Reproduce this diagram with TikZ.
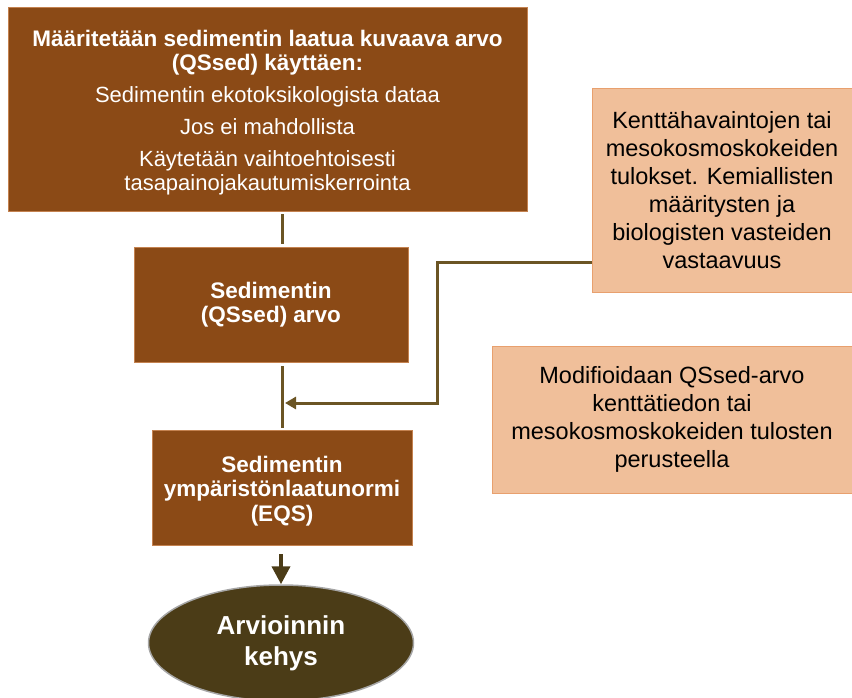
\documentclass[tikz,border=0pt]{standalone}
\usepackage{fontspec}
\setmainfont{Liberation Sans}
\usetikzlibrary{shapes.geometric,arrows.meta}
\definecolor{brownbox}{RGB}{139,74,22}
\definecolor{brownedge}{RGB}{196,130,80}
\definecolor{peach}{RGB}{240,191,154}
\definecolor{peachedge}{RGB}{232,160,110}
\definecolor{darkolive}{RGB}{75,60,23}
\definecolor{linkcol}{RGB}{107,85,36}
\tikzset{
  stagebox/.style={draw=brownedge, line width=0.8pt, fill=brownbox, text=white,
    align=center, inner sep=0pt, font=\fontsize{22.5}{24.5}\selectfont\bfseries},
  notebox/.style={draw=peachedge, line width=0.8pt, fill=peach, text=black,
    align=center, inner sep=0pt},
  link/.style={draw=linkcol, line width=3pt},
  linkarrow/.style={link, -{Triangle[length=11pt,width=12pt]}},
  endarrow/.style={draw=darkolive, line width=4pt, -{Triangle[length=18pt,width=18pt]}},
}
\begin{document}
\begin{tikzpicture}[x=1pt,y=-1pt]
\useasboundingbox (0,0) rectangle (852,698);
% main column
\node[stagebox, minimum width=519pt, minimum height=204pt] (define) at (267.5,109) {};
\node[text=white, align=center, font=\fontsize{22}{24}\selectfont] at (267.5,113)
  {\bfseries\fontsize{22.5}{24}\selectfont Määritetään sedimentin laatua kuvaava arvo\\
   \bfseries\fontsize{22.5}{24}\selectfont (QSsed) käyttäen:\\[8pt]
   Sedimentin ekotoksikologista dataa\\[8pt]
   Jos ei mahdollista\\[8pt]
   Käytetään vaihtoehtoisesti\\
   tasapainojakautumiskerrointa};
\node[stagebox, minimum width=274pt, minimum height=115pt] (qssed) at (271,304.5)
  {Sedimentin\\(QSsed) arvo};
\node[stagebox, minimum width=260pt, minimum height=115pt, text depth=0pt] (eqs) at (282,487.5)
  {};
\node[text=white, align=center, font=\fontsize{22.5}{24.5}\selectfont\bfseries] at (282,491)
  {Sedimentin\\ympäristönlaatunormi\\(EQS)};
\node[ellipse, draw=gray!70, line width=1.5pt, fill=darkolive, text=white,
  minimum width=265pt, minimum height=116pt, align=center, inner sep=0pt,
  font=\fontsize{26}{31}\selectfont\bfseries] (frame) at (281,643)
  {Arvioinnin\\kehys};
% side notes
\node[notebox, minimum width=260pt, minimum height=204pt,
  font=\fontsize{23.5}{28}\selectfont] (field) at (722,190)
  {Kenttähavaintojen tai\\mesokosmoskokeiden\\tulokset. Kemiallisten\\määritysten ja\\biologisten vasteiden\\vastaavuus};
\node[notebox, minimum width=360pt, minimum height=147pt,
  font=\fontsize{23.5}{28}\selectfont] (modify) at (672,419.5)
  {Modifioidaan QSsed-arvo\\kenttätiedon tai\\mesokosmoskokeiden tulosten\\perusteella};
% connectors
\coordinate (join) at (282,403);
\draw[link] ([yshift=-3pt]define.south -| 282,0) -- ([yshift=3pt]qssed.north -| 282,0);
\draw[link] ([yshift=-4pt]qssed.south -| 282,0) -- ([yshift=2pt]eqs.north -| 282,0);
\draw[linkarrow] (field.west |- 0,262) -- (437,262) -- (437,403) -- ([xshift=3pt]join);
\draw[endarrow] ([yshift=-9pt]eqs.south -| 281,0) -- (frame.north);
\end{tikzpicture}
\end{document}
